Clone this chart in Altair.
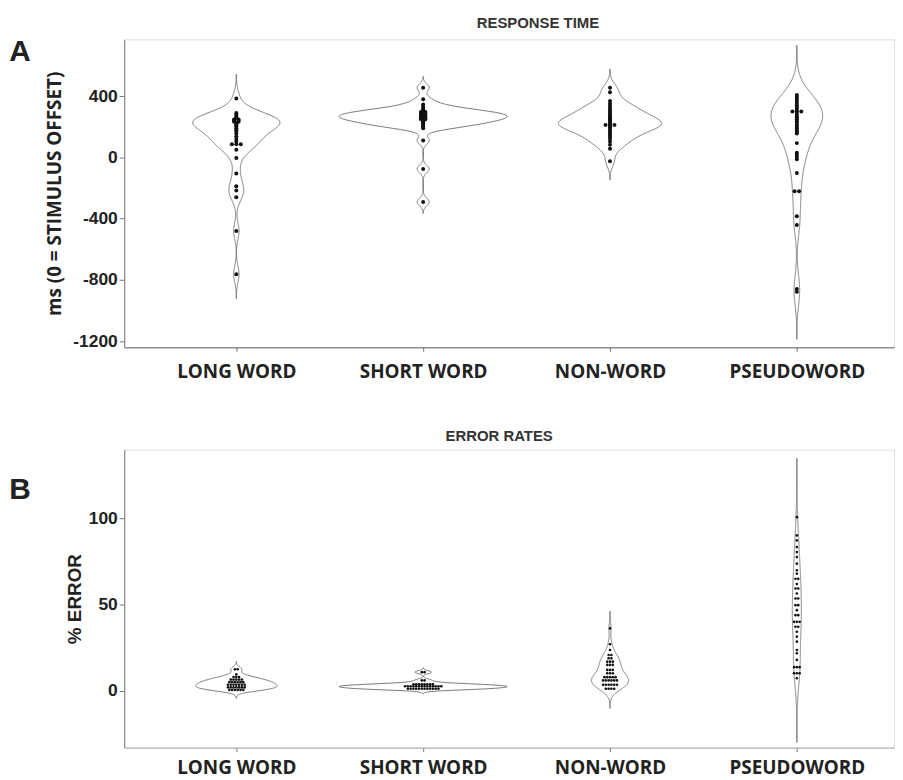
import altair as alt
import pandas as pd

CATEGORIES = ["LONG WORD", "SHORT WORD", "NON-WORD", "PSEUDOWORD"]

# Panel A: response time (ms, 0 = stimulus offset)
RT_LONG = [384, 290, 280, 270, 262, 255, 248, 248, 240, 240, 232, 232, 225, 218, 210, 201, 190, 178,
           169, 155, 137, 120, 104, 85, 85, 85, 50, -4, -106, -189, -217, -260, -481, -763]
RT_SHORT = [455, 379, 345, 330, 318, 310, 303, 296, 296, 290, 284, 284, 278, 272, 272, 266, 260, 260,
            254, 248, 248, 242, 236, 230, 224, 218, 212, 205, 198, 190, 110, -76, -291]
RT_NON = [455, 425, 368, 350, 335, 320, 308, 296, 285, 275, 265, 256, 248, 240, 232, 224, 218, 212,
          212, 212, 204, 196, 186, 175, 163, 150, 136, 122, 104, 82, 56, -26]
RT_PSEUDO = [407, 395, 384, 370, 355, 340, 325, 312, 299, 299, 299, 285, 272, 260, 248, 236, 224, 212,
             200, 188, 176, 165, 156, 93, 30, 17, 4, -13, -102, -221, -221, -384, -442, -860, -878]

# Panel B: error rates (%)
ERR_LONG = [12.5, 12.5, 9.5, 8.0, 8.0, 8.0, 6.5, 6.5, 6.5, 6.5, 6.5, 5.0, 5.0, 5.0, 5.0, 5.0, 5.0,
            3.5, 3.5, 3.5, 3.5, 3.5, 3.5, 3.5, 2.0, 2.0, 2.0, 2.0, 2.0, 2.0, 2.0,
            0.5, 0.5, 0.5, 0.5, 0.5, 0.5]
ERR_SHORT = [10.8, 10.8, 6.0, 6.0, 3.8, 3.8, 3.8, 3.8, 3.8, 3.8, 3.8, 3.8,
             2.6, 2.6, 2.6, 2.6, 2.6, 2.6, 2.6, 2.6, 2.6, 2.6, 2.6, 2.6, 2.6, 2.6,
             1.2, 1.2, 1.2, 1.2, 1.2, 1.2, 1.2, 1.2, 1.2, 1.2, 1.2, 1.2]
ERR_NON = [36.2, 27.0, 23.7, 20.8, 20.8, 18.9, 18.9, 16.9, 16.9, 16.9, 15.0, 15.0, 15.0,
           12.1, 12.1, 12.1, 10.2, 10.2, 10.2, 7.9, 7.9, 7.9, 7.9, 7.9, 6.0, 6.0, 6.0, 6.0, 6.0, 6.0,
           3.5, 3.5, 3.5, 3.5, 3.5, 3.5, 1.2, 1.2, 1.2, 1.2]
ERR_PSEUDO = [100.8, 90.2, 87.3, 83.4, 80.5, 77.6, 73.8, 70.0, 68.0, 65.0, 65.0, 62.0, 59.4, 59.4,
              56.5, 53.6, 53.6, 49.7, 49.7, 46.8, 43.9, 43.9, 40.0, 40.0, 40.0, 37.2, 37.2, 34.3,
              31.4, 28.5, 23.7, 21.8, 17.9, 13.7, 13.7, 13.7, 10.2, 10.2, 10.2, 7.3]

RT_TICKS = [400, 0, -400, -800, -1200]
ERR_TICKS = [0, 50, 100]


def long_df(series):
    rows = []
    for gi, vals in enumerate(series):
        for v in vals:
            rows.append({"gi": gi, "value": v})
    return pd.DataFrame(rows)


LABEL_EXPR = "[" + ",".join("'%s'" % c for c in CATEGORIES) + "][datum.value]"
XSCALE = alt.Scale(domain=[-0.6, 3.52], nice=False, zero=False)
LINE_COLOR = "#6a6a6a"


def panel(df, ydomain, yticks, ytitle, ytitle_font, ytitle_pad, title, title_dx, letter, letter_y,
          extent, steps, dotsize, ds, height, xdomain_color, xlabel_pad):
    yscale = alt.Scale(domain=ydomain, nice=False, zero=False)
    xaxis = alt.Axis(values=[0, 1, 2, 3], labelExpr=LABEL_EXPR, title=None, labelFont="Open Sans",
                     labelFontWeight="bold", labelFontSize=19, labelColor="#222", labelPadding=xlabel_pad,
                     tickSize=4, tickColor="#777", domainColor=xdomain_color, grid=False, labelFlush=False)
    yaxis = alt.Axis(values=yticks, labelExpr="'' + datum.value", title=ytitle, titleFont=ytitle_font,
                     titleFontWeight="bold", titleFontSize=19, titleColor="#222", labelFont="Liberation Sans",
                     labelFontWeight="bold", labelFontSize=17.5, labelColor="#222", tickSize=5,
                     tickColor="#777", domainColor="#777", labelPadding=2, titlePadding=ytitle_pad, grid=False)
    xenc = alt.X("xv:Q", scale=XSCALE, axis=xaxis)
    yenc = alt.Y("value:Q", scale=yscale, axis=yaxis)

    vbase = (alt.Chart(df)
             .transform_calculate(rep="[0, 1]")
             .transform_flatten(["rep"])
             .transform_density("value", groupby=["gi"], as_=["value", "density"], extent=extent, steps=steps)
             .transform_joinaggregate(maxd="max(density)")
             .transform_joinaggregate(gmax="max(density)", groupby=["gi"])
             .transform_filter("datum.density > datum.gmax * 0.0006")
             .transform_calculate(w="datum.density / datum.maxd * 0.45"))
    right = vbase.transform_calculate(xv="datum.gi + datum.w").mark_line(
        color=LINE_COLOR, strokeWidth=0.9).encode(x=xenc, y=yenc, detail="gi:N", order="value:Q")
    left = vbase.transform_calculate(xv="datum.gi - datum.w").mark_line(
        color=LINE_COLOR, strokeWidth=0.9).encode(x=xenc, y=yenc, detail="gi:N", order="value:Q")
    dots = (alt.Chart(df)
            .transform_window(rn="row_number()", groupby=["gi", "value"])
            .transform_joinaggregate(cnt="count()", groupby=["gi", "value"])
            .transform_calculate(xv="datum.gi + (datum.rn - (datum.cnt + 1) / 2) * %f" % ds)
            .mark_circle(size=dotsize, color="#111", opacity=1)
            .encode(x=xenc, y=yenc))
    lab = (alt.Chart(pd.DataFrame({"t": [letter]}))
           .mark_text(font="Liberation Sans", fontWeight="bold", fontSize=30, align="center",
                      baseline="middle", color="#222")
           .encode(text="t:N", x=alt.value(-105), y=alt.value(letter_y)))
    return alt.layer(left, right, dots, lab).properties(
        width=775, height=height,
        title=alt.TitleParams(title, font="Liberation Sans", fontWeight="bold", fontSize=15,
                              color="#333", offset=6, frame="group", dx=title_dx))


dfA = long_df([RT_LONG, RT_SHORT, RT_NON, RT_PSEUDO])
dfB = long_df([ERR_LONG, ERR_SHORT, ERR_NON, ERR_PSEUDO])

A = panel(dfA, [-1240, 770], RT_TICKS, "ms (0 = STIMULUS OFFSET)", "Open Sans", 8, "RESPONSE TIME", 29,
          "A", 13, [-1240, 770], 700, 16, 0.024, 310, "#666", 11)
B = panel(dfB, [-33, 140], ERR_TICKS, "% ERROR", "Liberation Sans", 4, "ERROR RATES", -10,
          "B", 41, [-33, 140], 1200, 7, 0.0149, 300, "#aaa", 7)

chart = (alt.vconcat(A, B, spacing=46)
         .properties(padding={"left": 0, "top": 5, "right": 0, "bottom": 0})
         .configure_view(stroke=None)
         .configure(background="white"))

chart.save("out.html", embed_options={"renderer": "svg", "actions": False})
